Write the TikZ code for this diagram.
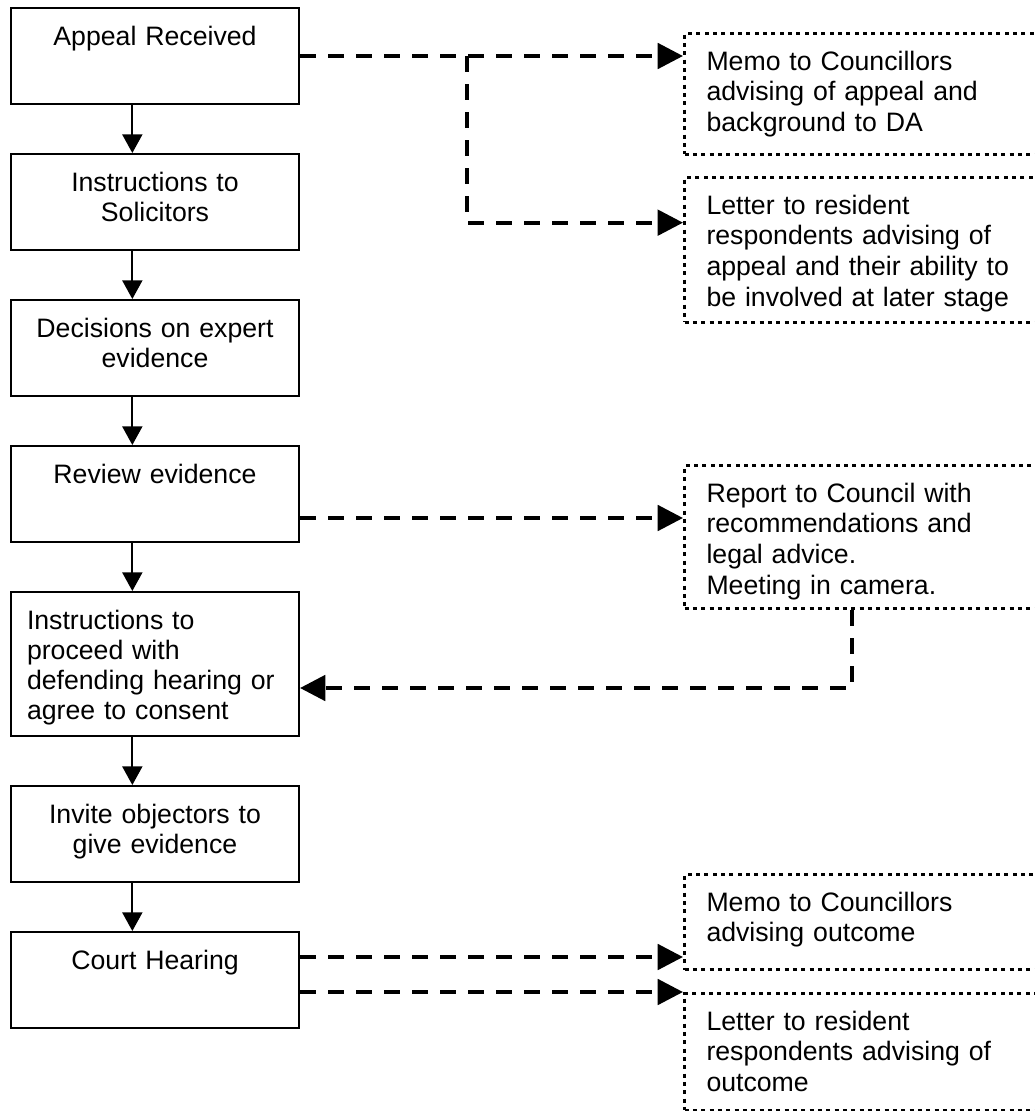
\documentclass[tikz,border=0pt]{standalone}
\usepackage{fontspec}
\setmainfont{Liberation Sans}
\usepackage{tikz}
\usetikzlibrary{arrows.meta, positioning, calc}

\tikzset{
    stage/.style={draw, rectangle, line width=1.5pt, inner xsep=16pt, inner ysep=0pt,
        text width=184pt, align=center, text height=28pt, text depth=#1,
        font=\fontsize{20pt}{22.5pt}\selectfont},
    stage/.default=44pt,
    notice/.style={draw, rectangle, line width=2.25pt, dash pattern=on 3pt off 3.25pt,
        inner xsep=16.5pt, inner ysep=0pt, text width=237pt, align=left,
        text height=27.5pt, text depth=#1, font=\fontsize{20pt}{23pt}\selectfont},
    flow/.style={-{Triangle[length=14pt, width=15pt]}, line width=1.5pt},
    notify/.style={-{Triangle[length=19pt, width=19pt]}, line width=3pt, dash pattern=on 12pt off 9pt},
}

\begin{document}
\begin{tikzpicture}[x=0.75pt, y=-0.75pt]

    \useasboundingbox (0,0) rectangle (1035,1111);

    % ================= Main sequence (left column) =================
    \node[stage, anchor=north] (appeal) at (155,7) {Appeal Received};
    \node[stage, below=36pt of appeal] (solicit) {Instructions to\\Solicitors};
    \node[stage, below=36pt of solicit] (expert) {Decisions on expert\\evidence};
    \node[stage, below=36pt of expert] (review) {Review evidence};
    \node[stage=80pt, align=left, text width=192pt, inner xsep=12pt, below=36pt of review] (proceed) {Instructions to\\proceed with\\defending hearing or\\agree to consent};
    \node[stage, below=36pt of proceed] (objectors) {Invite objectors to\\give evidence};
    \node[stage, below=36pt of objectors] (court) {Court Hearing};

    % solid arrows down the column
    \foreach \a/\b in {appeal/solicit, solicit/expert, expert/review, review/proceed, proceed/objectors, objectors/court}
        \draw[flow] ([xshift=-17pt]\a.south) -- ([xshift=-17pt]\b.north);

    % ================= Notifications (right column) =================
    \node[notice=63pt, anchor=north west] (memoda) at (683,32) {Memo to Councillors\\advising of appeal and\\background to DA};
    \node[notice=81pt, anchor=north west] (letterres) at (683,176) {Letter to resident\\respondents advising of\\appeal and their ability to\\be involved at later stage};
    \node[notice=80pt, anchor=north west] (report) at (683,464) {Report to Council with\\recommendations and\\legal advice.\\Meeting in camera.};
    \node[notice=44pt, anchor=north west] (memoout) at (683,873) {Memo to Councillors\\advising outcome};
    \node[notice=60pt, anchor=north west] (letterout) at (683,992) {Letter to resident\\respondents advising of\\outcome};

    % ================= Dashed links =================
    % Appeal -> memo, and branch to letter
    \draw[notify] (appeal.east) -- (appeal.east -| memoda.west);
    \coordinate (split) at (467,0 |- appeal.east);
    \coordinate (letterin) at ([yshift=-35pt]letterres.north west);
    \draw[notify] (split) |- (letterin);

    % Review -> report, report -> proceed
    \draw[notify] ([yshift=-18pt]review.east) -- ([yshift=-18pt]review.east -| report.west);
    \draw[notify] ([xshift=126.75pt]report.south west) |- ([yshift=-18pt]proceed.east);

    % Court hearing -> outcome memo and letter
    \draw[notify] ([yshift=17.25pt]court.east) -- ([yshift=17.25pt]court.east -| memoout.west);
    \draw[notify] (court.east |- letterout.north west) -- (letterout.north west);

\end{tikzpicture}
\end{document}
